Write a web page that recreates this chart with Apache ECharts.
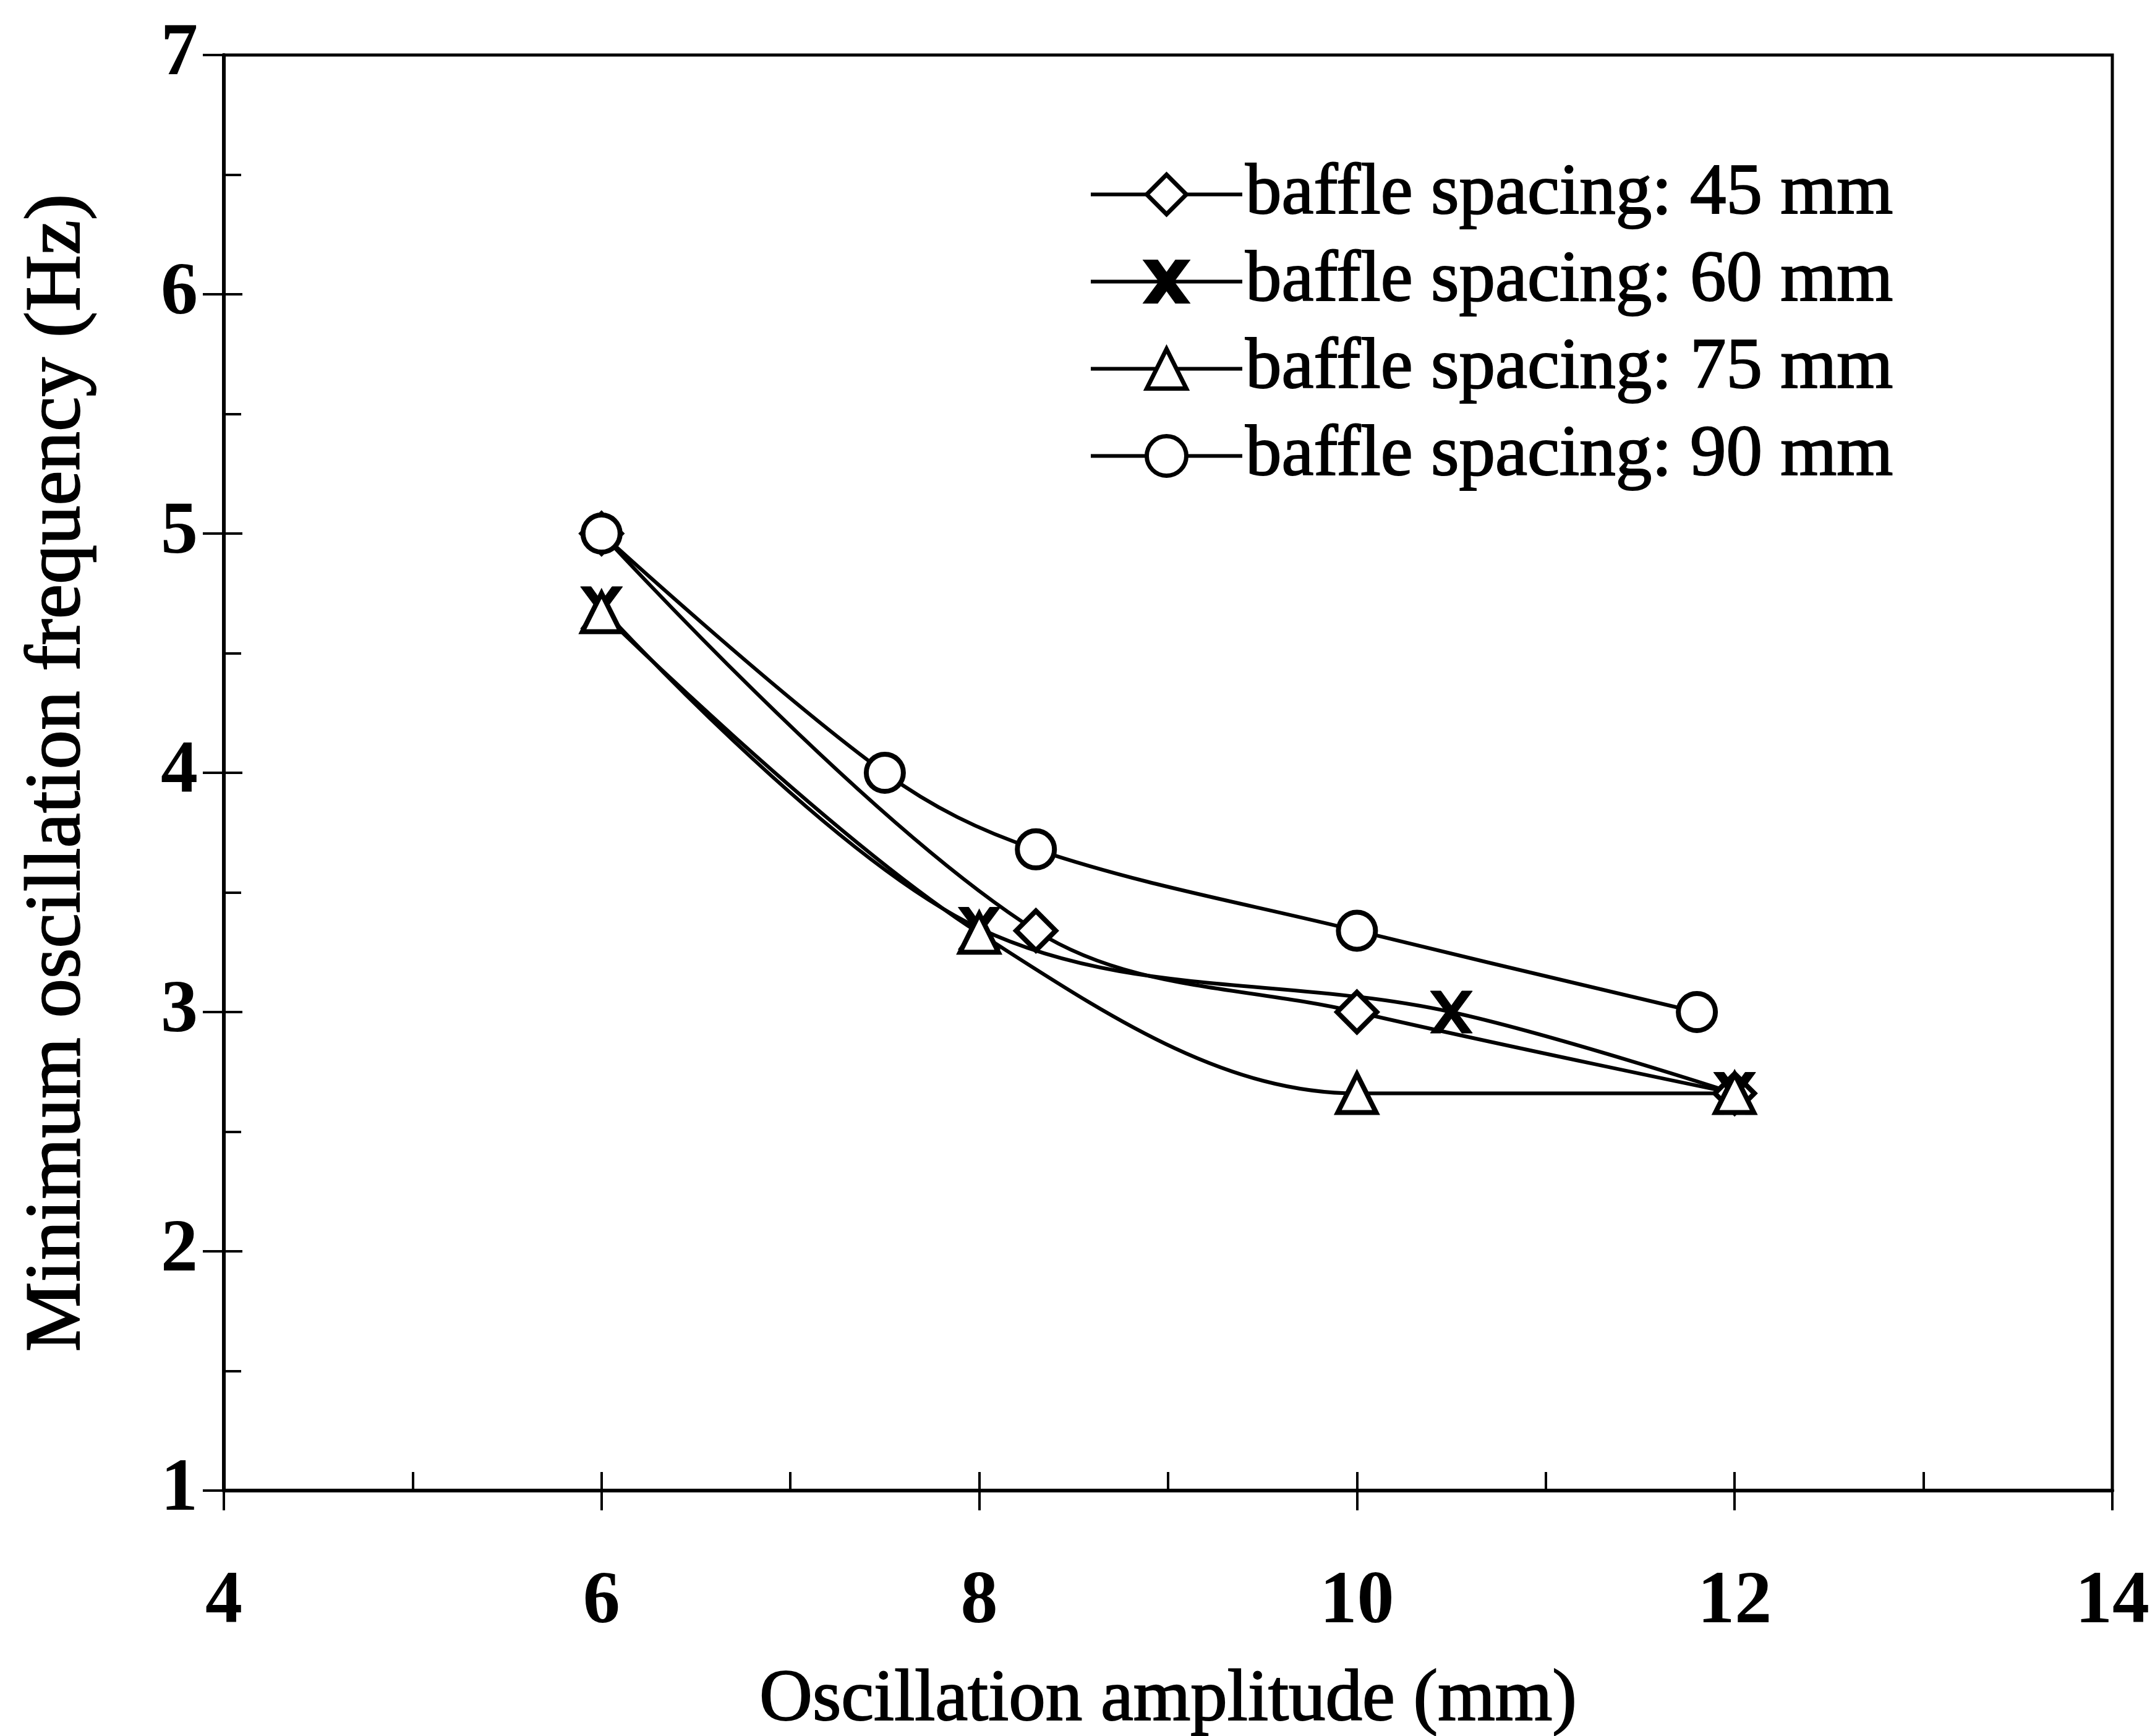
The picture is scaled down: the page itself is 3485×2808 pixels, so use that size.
<!DOCTYPE html>
<html>
<head>
<meta charset="utf-8">
<title>Minimum oscillation frequency vs amplitude</title>
<script src="https://cdn.jsdelivr.net/npm/echarts@6/dist/echarts.min.js"></script>
<style>
  html, body { margin: 0; padding: 0; background: #ffffff; }
  #chart { width: 3485px; height: 2808px; }
</style>
</head>
<body>
<div id="chart"></div>
<script>
// Oscillation amplitude (mm) and minimum oscillation frequency (Hz) per baffle spacing
const amp45 = [6, 8.3, 10, 12];
const freq45 = [5.0, 3.34, 3.0, 2.66];

const amp60 = [6, 8, 10.5, 12];
const freq60 = [4.69, 3.35, 3.0, 2.66];

const amp75 = [6, 8, 10, 12];
const freq75 = [4.67, 3.33, 2.66, 2.66];

const amp90 = [6, 7.5, 8.3, 10, 11.8];
const freq90 = [5.0, 4.0, 3.68, 3.34, 3.0];

const seriesNames = [
  'baffle spacing: 45 mm',
  'baffle spacing: 60 mm',
  'baffle spacing: 75 mm',
  'baffle spacing: 90 mm'
];

const xTicks = [4, 6, 8, 10, 12, 14];
const yTicks = [1, 2, 3, 4, 5, 6, 7];

const FONT = "'Liberation Serif', 'Times New Roman', serif";
const INK = '#000000';

function pairs(xs, ys) {
  return xs.map((x, i) => [x, ys[i]]);
}

// solid "X" marker
const crossSymbol = 'path://M0,0L5,0L10,7L15,0L20,0L12.6,10L20,20L15,20L10,13L5,20L0,20L7.4,10Z';

function makeSeries(name, xs, ys, symbol, size, fill, border) {
  return {
    name: name,
    type: 'line',
    xAxisIndex: 0,
    yAxisIndex: 0,
    data: pairs(xs, ys),
    smooth: 0.35,
    symbol: symbol,
    symbolSize: size,
    showAllSymbol: true,
    color: INK,
    lineStyle: { color: INK, width: 6 },
    itemStyle: { color: fill, borderColor: INK, borderWidth: border },
    emphasis: { disabled: true },
    z: 3
  };
}

const axisLineStyle = { color: INK, width: 6 };
const tickStyle = { color: INK, width: 4 };

const chart = echarts.init(document.getElementById('chart'), null, { renderer: 'canvas' });

chart.setOption({
  backgroundColor: '#ffffff',
  animation: false,
  grid: {
    left: 362, right: 69, top: 89, bottom: 397,
    outerBoundsMode: 'none',
    show: true,
    borderColor: INK,
    borderWidth: 5,
    backgroundColor: 'transparent'
  },
  legend: {
    orient: 'vertical',
    left: 1756,
    top: 250,
    itemWidth: 245,
    itemHeight: 80,
    itemGap: 22,
    selectedMode: false,
    data: seriesNames,
    itemStyle: { borderWidth: 7 },
    lineStyle: { width: 6 },
    textStyle: {
      fontFamily: FONT,
      fontSize: 117,
      color: INK,
      padding: [0, 0, 0, 0],
      textBorderColor: INK,
      textBorderWidth: 2
    }
  },
  xAxis: [
    {
      type: 'value',
      position: 'bottom',
      min: xTicks[0],
      max: xTicks[xTicks.length - 1],
      interval: 2,
      name: 'Oscillation amplitude (mm)',
      nameLocation: 'middle',
      nameGap: 280,
      nameTextStyle: {
        fontFamily: FONT, fontSize: 119, color: INK,
        textBorderColor: INK, textBorderWidth: 2
      },
      axisLine: { show: true, onZero: false, lineStyle: axisLineStyle },
      axisTick: { show: true, inside: false, length: 32, lineStyle: tickStyle },
      axisLabel: {
        margin: 122, fontFamily: FONT, fontSize: 120, fontWeight: 'bold', color: INK
      },
      splitLine: { show: false }
    },
    {
      type: 'value',
      position: 'bottom',
      min: xTicks[0],
      max: xTicks[xTicks.length - 1],
      interval: 2,
      axisLine: { show: false, onZero: false },
      axisTick: { show: true, inside: true, length: 30, lineStyle: tickStyle },
      minorTick: { show: true, splitNumber: 2, length: 30, lineStyle: tickStyle },
      axisLabel: { show: false },
      splitLine: { show: false }
    }
  ],
  yAxis: [
    {
      type: 'value',
      position: 'left',
      min: yTicks[0],
      max: yTicks[yTicks.length - 1],
      interval: 1,
      name: 'Minimum oscillation frequency (Hz)',
      nameLocation: 'middle',
      nameGap: 204,
      nameRotate: 90,
      nameTextStyle: {
        fontFamily: FONT, fontSize: 127, color: INK,
        textBorderColor: INK, textBorderWidth: 2
      },
      axisLine: { show: true, onZero: false, lineStyle: axisLineStyle },
      axisTick: { show: true, inside: false, length: 34, lineStyle: tickStyle },
      axisLabel: {
        margin: 42, fontFamily: FONT, fontSize: 120, fontWeight: 'bold', color: INK
      },
      splitLine: { show: false }
    },
    {
      type: 'value',
      position: 'left',
      min: yTicks[0],
      max: yTicks[yTicks.length - 1],
      interval: 1,
      axisLine: { show: false, onZero: false },
      axisTick: { show: true, inside: true, length: 30, lineStyle: tickStyle },
      minorTick: { show: true, splitNumber: 2, length: 28, lineStyle: tickStyle },
      axisLabel: { show: false },
      splitLine: { show: false }
    }
  ],
  series: [
    makeSeries(seriesNames[0], amp45, freq45, 'diamond', 64, '#ffffff', 8),
    makeSeries(seriesNames[1], amp60, freq60, crossSymbol, 68, INK, 1),
    makeSeries(seriesNames[2], amp75, freq75, 'triangle', 62, '#ffffff', 8),
    makeSeries(seriesNames[3], amp90, freq90, 'circle', 60, '#ffffff', 8)
  ]
});
</script>
</body>
</html>
